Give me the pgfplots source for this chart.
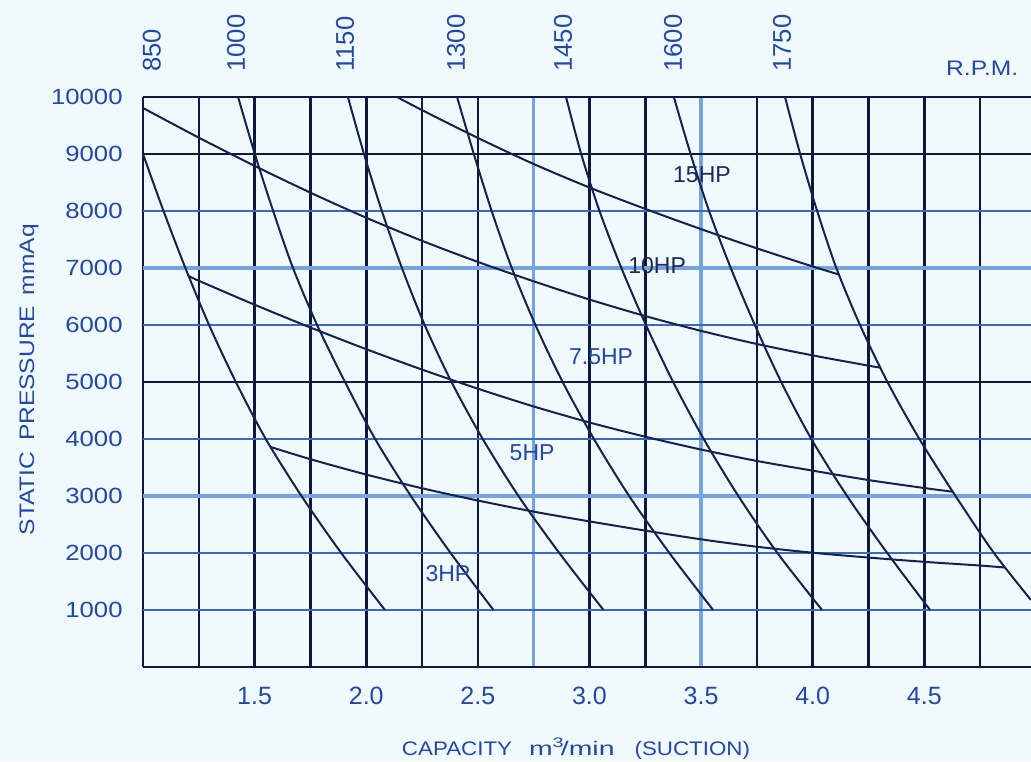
\documentclass[border=0pt]{standalone}
\usepackage{fontspec}
\setmainfont{Liberation Sans}
\newfontfamily\widefont[FakeStretch=1.17]{Liberation Sans}
\newfontfamily\xlabfont[FakeStretch=1.14]{Liberation Sans}
\newfontfamily\mfont[FakeStretch=1.45]{Liberation Sans}
\usepackage{pgfplots}
\pgfplotsset{compat=1.18}
\definecolor{bgc}{HTML}{F0FAFE}
\definecolor{darkg}{HTML}{0B1A3C}
\definecolor{blueg}{HTML}{3A6AC0}
\definecolor{lightg}{HTML}{77A2DC}
\definecolor{curvec}{HTML}{13234D}
\definecolor{txtc}{HTML}{2348A0}
\definecolor{hpc}{HTML}{1A2A5A}
\begin{document}
\begin{tikzpicture}
\fill[bgc] (-71.5pt,-47pt) rectangle (444pt,333.5pt);
\begin{axis}[
  scale only axis, width=444pt, height=285pt,
  xmin=1, xmax=4.978, ymin=0, ymax=10000,
  axis line style={draw=none},
  clip=false,
  scaled ticks=false,
  xtick={1.5,2,2.5,3,3.5,4,4.5},
  xticklabels={1.5,2.0,2.5,3.0,3.5,4.0,4.5},
  ytick={1000,2000,3000,4000,5000,6000,7000,8000,9000,10000},
  yticklabels={1000,2000,3000,4000,5000,6000,7000,8000,9000,10000},
  major tick length=0pt,
  xticklabel style={font=\fontsize{12.5}{12.5}\selectfont, text=txtc, inner sep=0pt, anchor=north, yshift=-10pt},
  yticklabel style={font=\widefont\fontsize{11}{11}\selectfont, text=txtc, inner sep=0pt, anchor=east, xshift=-10pt},
  curve/.style={curvec, line width=1pt, smooth, tension=0.5, no markers},
]
% vertical grid lines
\draw[darkg, line width=1.4pt] (axis cs:1.00,0) -- (axis cs:1.00,10000);
\draw[darkg, line width=1.3pt] (axis cs:1.25,0) -- (axis cs:1.25,10000);
\draw[darkg, line width=1.3pt] (axis cs:1.50,0) -- (axis cs:1.50,10000);
\draw[darkg, line width=1.3pt] (axis cs:1.75,0) -- (axis cs:1.75,10000);
\draw[darkg, line width=1.3pt] (axis cs:2.00,0) -- (axis cs:2.00,10000);
\draw[darkg, line width=1.3pt] (axis cs:2.25,0) -- (axis cs:2.25,10000);
\draw[darkg, line width=1.3pt] (axis cs:2.50,0) -- (axis cs:2.50,10000);
\draw[lightg, line width=1.6pt] (axis cs:2.75,0) -- (axis cs:2.75,10000);
\draw[darkg, line width=1.3pt] (axis cs:3.00,0) -- (axis cs:3.00,10000);
\draw[darkg, line width=1.3pt] (axis cs:3.25,0) -- (axis cs:3.25,10000);
\draw[lightg, line width=1.6pt] (axis cs:3.50,0) -- (axis cs:3.50,10000);
\draw[darkg, line width=1.3pt] (axis cs:3.75,0) -- (axis cs:3.75,10000);
\draw[darkg, line width=1.3pt] (axis cs:4.00,0) -- (axis cs:4.00,10000);
\draw[darkg, line width=1.3pt] (axis cs:4.25,0) -- (axis cs:4.25,10000);
\draw[darkg, line width=1.3pt] (axis cs:4.50,0) -- (axis cs:4.50,10000);
\draw[darkg, line width=1.3pt] (axis cs:4.75,0) -- (axis cs:4.75,10000);
% horizontal grid lines
\draw[blueg, line width=1.2pt] (axis cs:1,1000) -- (axis cs:4.978,1000);
\draw[blueg, line width=1.2pt] (axis cs:1,2000) -- (axis cs:4.978,2000);
\draw[lightg, line width=1.9pt] (axis cs:1,3000) -- (axis cs:4.978,3000);
\draw[blueg, line width=1.2pt] (axis cs:1,4000) -- (axis cs:4.978,4000);
\draw[blueg, line width=1.2pt] (axis cs:1,6000) -- (axis cs:4.978,6000);
\draw[lightg, line width=1.9pt] (axis cs:1,7000) -- (axis cs:4.978,7000);
\draw[blueg, line width=1.2pt] (axis cs:1,8000) -- (axis cs:4.978,8000);
\draw[darkg, line width=1.4pt] (axis cs:1,0) -- (axis cs:4.978,0);
\draw[darkg, line width=1.4pt] (axis cs:1,5000) -- (axis cs:4.978,5000);
\draw[darkg, line width=1.4pt] (axis cs:1,9000) -- (axis cs:4.978,9000);
\draw[darkg, line width=1.4pt] (axis cs:1,10000) -- (axis cs:4.978,10000);

% RPM curves
\addplot[curve] coordinates {(1.000,9000) (1.092,8000) (1.190,7000) (1.296,6000) (1.416,5000) (1.550,4000) (1.710,3000) (1.888,2000) (2.084,1000)}; % 850
\addplot[curve] coordinates {(1.426,10000) (1.501,9000) (1.583,8000) (1.672,7000) (1.780,6000) (1.905,5000) (2.040,4000) (2.200,3000) (2.378,2000) (2.570,1000)}; % 1000
\addplot[curve] coordinates {(1.918,10000) (1.990,9000) (2.070,8000) (2.160,7000) (2.262,6000) (2.382,5000) (2.522,4000) (2.682,3000) (2.865,2000) (3.063,1000)}; % 1150
\addplot[curve] coordinates {(2.407,10000) (2.482,9000) (2.562,8000) (2.652,7000) (2.758,6000) (2.880,5000) (3.020,4000) (3.178,3000) (3.358,2000) (3.554,1000)}; % 1300
\addplot[curve] coordinates {(2.895,10000) (2.963,9000) (3.045,8000) (3.143,7000) (3.253,6000) (3.375,5000) (3.512,4000) (3.667,3000) (3.842,2000) (4.042,1000)}; % 1450
\addplot[curve] coordinates {(3.378,10000) (3.453,9000) (3.536,8000) (3.633,7000) (3.741,6000) (3.859,5000) (3.994,4000) (4.154,3000) (4.334,2000) (4.526,1000)}; % 1600
\addplot[curve] coordinates {(3.876,10000) (3.944,9000) (4.020,8000) (4.106,7000) (4.212,6000) (4.335,5000) (4.478,4000) (4.640,3000) (4.812,2000) (4.978,1175)}; % 1750

% power boundary curves
\addplot[curve] coordinates {(2.138,10000) (2.25,9770) (2.5,9282) (2.75,8825) (3.0,8412) (3.25,8037) (3.5,7682) (3.75,7345) (4.0,7027) (4.119,6884)}; % 15HP / 10HP
\addplot[curve] coordinates {(1.0,9807) (1.25,9287) (1.5,8792) (1.75,8322) (2.0,7882) (2.25,7477) (2.5,7107) (2.75,6767) (3.0,6447) (3.25,6157) (3.5,5897) (3.75,5667) (4.0,5467) (4.25,5287) (4.303,5252)}; % 10HP / 7.5HP
\addplot[curve] coordinates {(1.205,6860) (1.25,6776) (1.5,6356) (1.75,5956) (2.0,5576) (2.25,5218) (2.5,4883) (2.75,4571) (3.0,4290) (3.25,4040) (3.5,3815) (3.75,3615) (4.0,3445) (4.25,3280) (4.5,3140) (4.627,3075)}; % 7.5HP / 5HP
\addplot[curve] coordinates {(1.572,3860) (1.75,3646) (2.0,3376) (2.25,3136) (2.5,2921) (2.75,2726) (3.0,2555) (3.25,2393) (3.5,2240) (3.75,2110) (4.0,2005) (4.25,1920) (4.5,1845) (4.75,1780) (4.862,1745)}; % 5HP / 3HP

% HP labels
\node[hpc, font=\fontsize{11.5}{11.5}\selectfont, inner sep=0pt] at (axis cs:3.504,8632) {15HP};
\node[hpc, font=\fontsize{11.5}{11.5}\selectfont, inner sep=0pt] at (axis cs:3.303,7035) {10HP};
\node[txtc, font=\fontsize{11.5}{11.5}\selectfont, inner sep=0pt] at (axis cs:3.052,5439) {7.5HP};
\node[txtc, font=\fontsize{11.5}{11.5}\selectfont, inner sep=0pt] at (axis cs:2.743,3754) {5HP};
\node[txtc, font=\fontsize{11.5}{11.5}\selectfont, inner sep=0pt] at (axis cs:2.366,1632) {3HP};

% RPM labels
\node[txtc, rotate=90, anchor=west, inner sep=0pt, font=\fontsize{12.8}{12.8}\selectfont] at ([yshift=12.5pt]axis cs:1.040,10000) {850};
\node[txtc, rotate=90, anchor=west, inner sep=0pt, font=\fontsize{12.8}{12.8}\selectfont] at ([yshift=12.5pt]axis cs:1.417,10000) {1000};
\node[txtc, rotate=90, anchor=west, inner sep=0pt, font=\fontsize{12.8}{12.8}\selectfont] at ([yshift=12.5pt]axis cs:1.905,10000) {1150};
\node[txtc, rotate=90, anchor=west, inner sep=0pt, font=\fontsize{12.8}{12.8}\selectfont] at ([yshift=12.5pt]axis cs:2.402,10000) {1300};
\node[txtc, rotate=90, anchor=west, inner sep=0pt, font=\fontsize{12.8}{12.8}\selectfont] at ([yshift=12.5pt]axis cs:2.882,10000) {1450};
\node[txtc, rotate=90, anchor=west, inner sep=0pt, font=\fontsize{12.8}{12.8}\selectfont] at ([yshift=12.5pt]axis cs:3.375,10000) {1600};
\node[txtc, rotate=90, anchor=west, inner sep=0pt, font=\fontsize{12.8}{12.8}\selectfont] at ([yshift=12.5pt]axis cs:3.863,10000) {1750};
\node[txtc, anchor=base, inner sep=0pt, font=\widefont\fontsize{10.5}{10.5}\selectfont] at ([yshift=11pt]rel axis cs:0.945,1) {R.P.M.};

% axis titles
\node[txtc, anchor=base, inner sep=0pt, font=\xlabfont\fontsize{9.8}{9.8}\selectfont] at ([yshift=-44pt]rel axis cs:0.4876,0) {CAPACITY\hspace{8.5pt}{\mfont m\textsuperscript{3}\kern-0.2em/min}\hspace{10pt}(SUCTION)};
\node[txtc, rotate=90, inner sep=0pt, font=\widefont\fontsize{10.5}{10.5}\selectfont] at ([xshift=-57pt]rel axis cs:0,0.504) {STATIC\enspace PRESSURE\enspace mmAq};
\end{axis}
\pgfresetboundingbox
\useasboundingbox (-71.5pt,-47pt) rectangle (444pt,333.5pt);
\end{tikzpicture}
\end{document}
